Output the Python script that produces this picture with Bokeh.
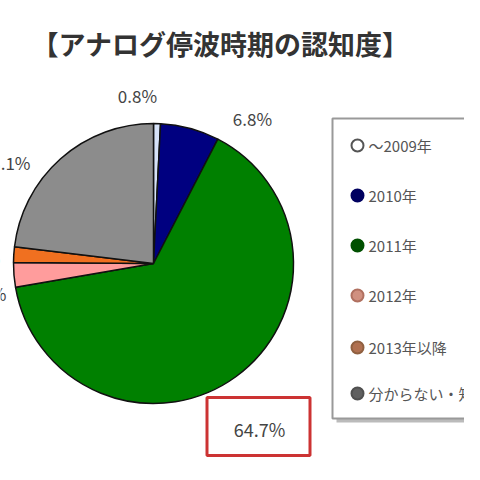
import math
from bokeh.plotting import figure
from bokeh.models import Range1d, ColumnDataSource
from bokeh.core.properties import value
from bokeh.embed import file_html
from bokeh.resources import INLINE

# ---- data ----
title_text = "【アナログ停波時期の認知度】"
categories = ["〜2009年", "2010年", "2011年", "2012年", "2013年以降", "分からない・知らない"]
values = [0.8, 6.8, 64.7, 2.8, 1.8, 23.1]
slice_colors = ["#D6E2F8", "#000080", "#008000", "#FF9C9C", "#F07020", "#8C8C8C"]
legend_fill = ["#FFFFFF", "#000060", "#005000", "#D09080", "#B07050", "#606060"]
legend_line = ["#555555", "#000060", "#005000", "#B07060", "#906040", "#505050"]

FONT = value("Noto Sans CJK JP")
W = H = 464

p = figure(width=W, height=H, x_range=Range1d(0, W), y_range=Range1d(0, H),
           output_backend="svg", toolbar_location=None, min_border=0)
p.axis.visible = False
p.grid.visible = False
p.outline_line_color = None
p.background_fill_color = "white"
p.border_fill_color = "white"

# ---- pie ----
cx, cy, r = 153, 201, 140
total = sum(values)
starts, ends = [], []
cum = 0.0
for v in values:
    starts.append(math.pi / 2 - 2 * math.pi * cum / total)
    cum += v
    ends.append(math.pi / 2 - 2 * math.pi * cum / total)
src = ColumnDataSource(dict(start=starts, end=ends, color=slice_colors))
p.wedge(x=cx, y=cy, radius=r, start_angle="start", end_angle="end", direction="clock",
        fill_color="color", line_color="#111111", line_width=1.5, source=src)

# ---- data labels ----
labels = [f"{v}%" for v in values]
lab_x = [137, 252, 259, 6, 0, 30]
lab_y = [369, 346, 36, 171, 207, 302]
lab_align = ["center", "center", "center", "right", "right", "right"]
lab_size = ["17px", "17px", "18px", "17px", "17px", "17px"]
p.text(x=lab_x, y=lab_y, text=labels, text_font=FONT, text_font_size=lab_size,
       text_color="#444444", text_align=lab_align, text_baseline="middle")

# red highlight box around the largest value
p.rect(x=258, y=38, width=103, height=58, fill_color=None,
       line_color="#CC3333", line_width=3)

# ---- legend box ----
p.quad(left=336, right=500, top=342, bottom=42, fill_color="#BBBBBB", line_color=None)
p.quad(left=332, right=496, top=346, bottom=46, fill_color="white",
       line_color="#999999", line_width=2)
leg_y = [319, 269, 219, 169, 117, 71]
p.scatter(x=[357] * len(categories), y=leg_y, size=12, fill_color=legend_fill,
          line_color=legend_line, line_width=2)
p.text(x=[368] * len(categories), y=leg_y, text=categories, text_font=FONT,
       text_font_size="15px", text_color="#555555", text_baseline="middle")

# ---- title ----
p.text(x=[220], y=[421], text=[title_text], text_font=FONT, text_font_size="27px",
       text_font_style="bold", text_color="#333333", text_align="center",
       text_baseline="middle")

open("out.html", "w").write(file_html(p, INLINE))
